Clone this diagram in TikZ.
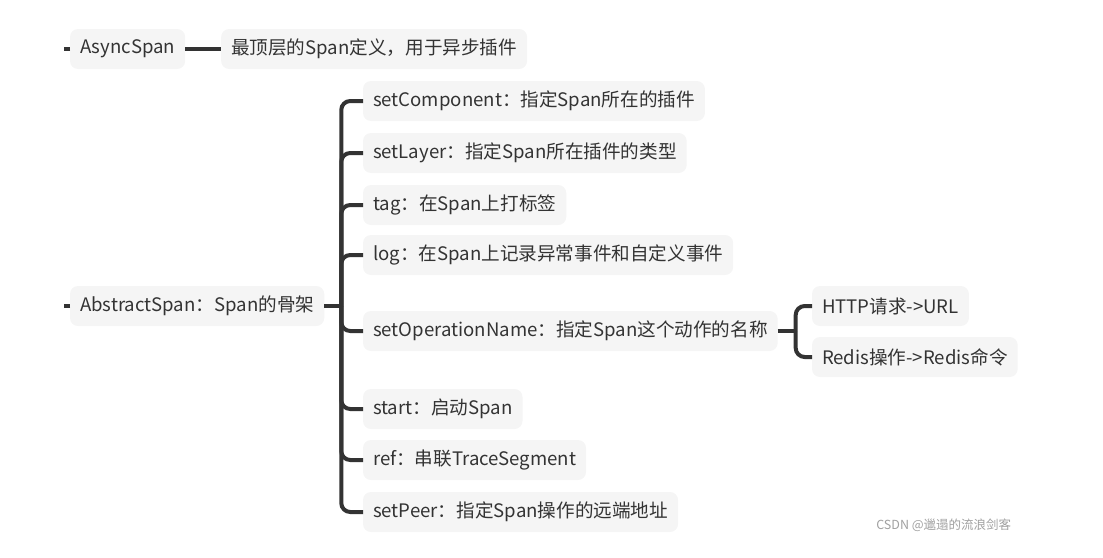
\documentclass[tikz,border=0pt]{standalone}
\usepackage{fontspec}
\setmainfont{Noto Sans CJK SC}
\usetikzlibrary{calc,positioning}
\definecolor{boxfill}{HTML}{F5F5F5}
\definecolor{inkgray}{HTML}{333333}
\definecolor{markgray}{HTML}{A0A0A0}

\begin{document}
\begin{tikzpicture}[x=1pt,y=-1pt,
  every node/.style={outer sep=0pt},
  topic/.style={fill=boxfill,rounded corners=8pt,text=inkgray,inner xsep=10pt,
    minimum height=40pt,font=\fontsize{18.6}{22}\selectfont,anchor=west},
  branch/.style={draw=inkgray,line width=4pt,rounded corners=9pt}]
\useasboundingbox (0,0) rectangle (1103,557);

\node (async) [topic] at (70,49) {AsyncSpan};
\node (asyncdef) [topic,right=36pt of async] {最顶层的Span定义，用于异步插件};
\draw [branch] (async.east) -- (asyncdef.west);
\draw [branch] (async.west) -- ++(-6,0);

\node (abstract) [topic] at (70,306) {AbstractSpan：Span的骨架};
\draw [branch] (abstract.west) -- ++(-6,0);
\coordinate (jab) at ($(abstract.east)+(17,0)$);

\node (comp) [topic] at (363,101) {setComponent：指定Span所在的插件};
\node (layer) [topic] at (363,153) {setLayer：指定Span所在插件的类型};
\node (tag) [topic] at (363,205) {tag：在Span上打标签};
\node (log) [topic] at (363,255) {log：在Span上记录异常事件和自定义事件};
\node (opname) [topic] at (363,331) {setOperationName：指定Span这个动作的名称};
\node (start) [topic] at (363,409) {start：启动Span};
\node (ref) [topic] at (363,460) {ref：串联TraceSegment};
\node (peer) [topic] at (363,512) {setPeer：指定Span操作的远端地址};

\draw [branch] (abstract.east) -- (jab);
\foreach \c in {comp,layer,tag,log,opname,start,ref,peer}
  \draw [branch] (jab) |- (\c.west);

\node (http) [topic] at (812,306) {HTTP请求->URL};
\node (redis) [topic] at (812,357) {Redis操作->Redis命令};
\coordinate (jop) at ($(opname.east)+(18,0)$);
\draw [branch] (opname.east) -- (jop);
\foreach \c in {http,redis}
  \draw [branch] (jop) |- (\c.west);

\node (mark) [anchor=west,text=markgray,font=\fontsize{12.5}{14}\selectfont] at (873,525) {CSDN @邋遢的流浪剑客};
\end{tikzpicture}
\end{document}
